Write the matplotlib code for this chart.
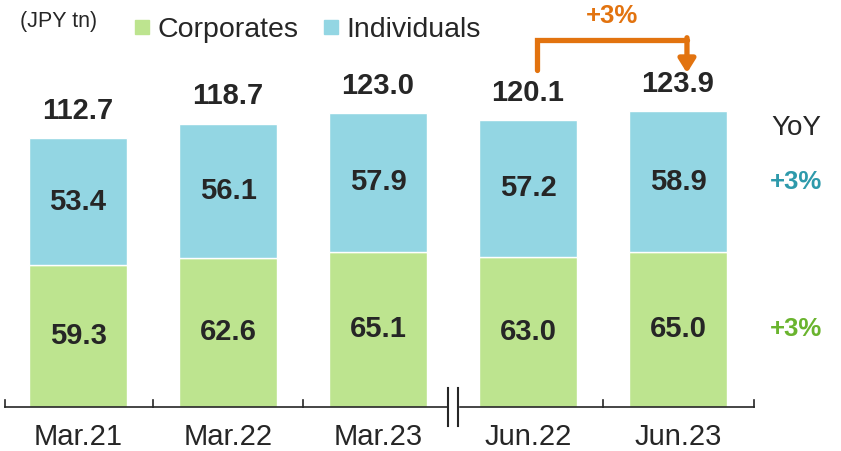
#!/usr/bin/env python3
# -*- coding: utf-8 -*-

"""
Stacked bars: deposits by client type (JPY tn), with YoY notes.
"""

import matplotlib
matplotlib.use("Agg")
import matplotlib.pyplot as plt
from matplotlib.lines import Line2D

plt.rcParams["font.family"] = ["Liberation Sans", "DejaVu Sans"]

periods = ["Mar.21", "Mar.22", "Mar.23", "Jun.22", "Jun.23"]
corporates = [59.3, 62.6, 65.1, 63.0, 65.0]
individuals = [53.4, 56.1, 57.9, 57.2, 58.9]
totals = [112.7, 118.7, 123.0, 120.1, 123.9]
yoy_individuals = "+3%"
yoy_corporates = "+3%"
yoy_total = "+3%"

GREEN = "#bde48f"
BLUE = "#93d6e3"
DARK = "#262626"
ORANGE = "#e2730f"


def main():
    fig = plt.figure(figsize=(8.41, 4.51), dpi=100)
    ax = fig.add_axes([0, 0, 1, 1])
    # pixel-ish mapping: 150 px per bar slot, 2.387 px per JPY tn
    ax.set_xlim(-0.52, 5.087)
    ax.set_ylim(-18.43, 170.5)
    ax.axis("off")

    x = list(range(len(periods)))
    w = 0.653
    ax.bar(x, corporates, width=w, color=GREEN, edgecolor="white", linewidth=1)
    ax.bar(x, individuals, width=w, bottom=corporates, color=BLUE,
           edgecolor="white", linewidth=1)

    for i in x:
        ax.text(i, corporates[i] / 2, f"{corporates[i]:.1f}", ha="center",
                va="center", fontsize=21, fontweight="bold", color=DARK)
        ax.text(i, corporates[i] + individuals[i] / 2, f"{individuals[i]:.1f}",
                ha="center", va="center", fontsize=21, fontweight="bold", color=DARK)
        ax.text(i, totals[i] + 11.5, f"{totals[i]:.1f}", ha="center",
                va="center", fontsize=21, fontweight="bold", color=DARK)
        ax.text(i, -12.6, periods[i], ha="center", va="center",
                fontsize=21, color=DARK)

    # baseline with ticks and break mark
    ax.plot([-0.487, 4.507], [0, 0], color=DARK, lw=1.2, zorder=3)
    for t in [-0.487, 0.5, 1.5, 3.5, 4.507]:
        ax.plot([t, t], [0, 2.9], color=DARK, lw=1.2, zorder=3)
    ax.fill_between([2.467, 2.533], -1, 1, color="white", zorder=4)
    for t in [2.467, 2.533]:
        ax.plot([t, t], [-8, 8], color=DARK, lw=1.5, zorder=5)

    # orange YoY arrow between Jun.22 and Jun.23
    ya = totals[3] + 21
    ytop = max(totals[3:]) + 30
    ax.plot([3.06, 3.06, 4.06], [ya, ytop, ytop], color=ORANGE, lw=3.8,
            solid_capstyle="round", solid_joinstyle="miter")
    ax.annotate("", xy=(4.06, totals[4] + 16), xytext=(4.06, ytop + 0.8),
                arrowprops=dict(arrowstyle="-|>,head_length=0.8,head_width=0.5",
                                color=ORANGE, lw=3.8, shrinkA=0, shrinkB=0))
    ax.text(3.56, ytop + 5, yoy_total, ha="center", va="bottom",
            fontsize=18.5, fontweight="bold", color=ORANGE)

    # YoY column on the right
    ax.text(4.79, 116.9, "YoY", ha="center", va="center", fontsize=20, color=DARK)
    ax.text(4.79, corporates[4] + individuals[4] / 2, yoy_individuals,
            ha="center", va="center", fontsize=18.5, fontweight="bold", color="#2e9aab")
    ax.text(4.79, corporates[4] / 2, yoy_corporates, ha="center", va="center",
            fontsize=18.5, fontweight="bold", color="#6ab42e")

    fig.text(20 / 841, 1 - 21 / 451, "(JPY tn)", ha="left", va="center",
             fontsize=15.5, color=DARK)
    handles = [Line2D([], [], marker="s", ls="", color=GREEN, markersize=10),
               Line2D([], [], marker="s", ls="", color=BLUE, markersize=10)]
    fig.legend(handles, ["Corporates", "Individuals"], loc="center left",
               bbox_to_anchor=(120 / 841, 1 - 30 / 451), ncol=2, frameon=False,
               fontsize=20.5, handlelength=0.55, handletextpad=0.25,
               columnspacing=0.9, borderpad=0, labelcolor=DARK)

    fig.savefig("out.png", dpi=100)
    plt.close(fig)


if __name__ == "__main__":
    main()
